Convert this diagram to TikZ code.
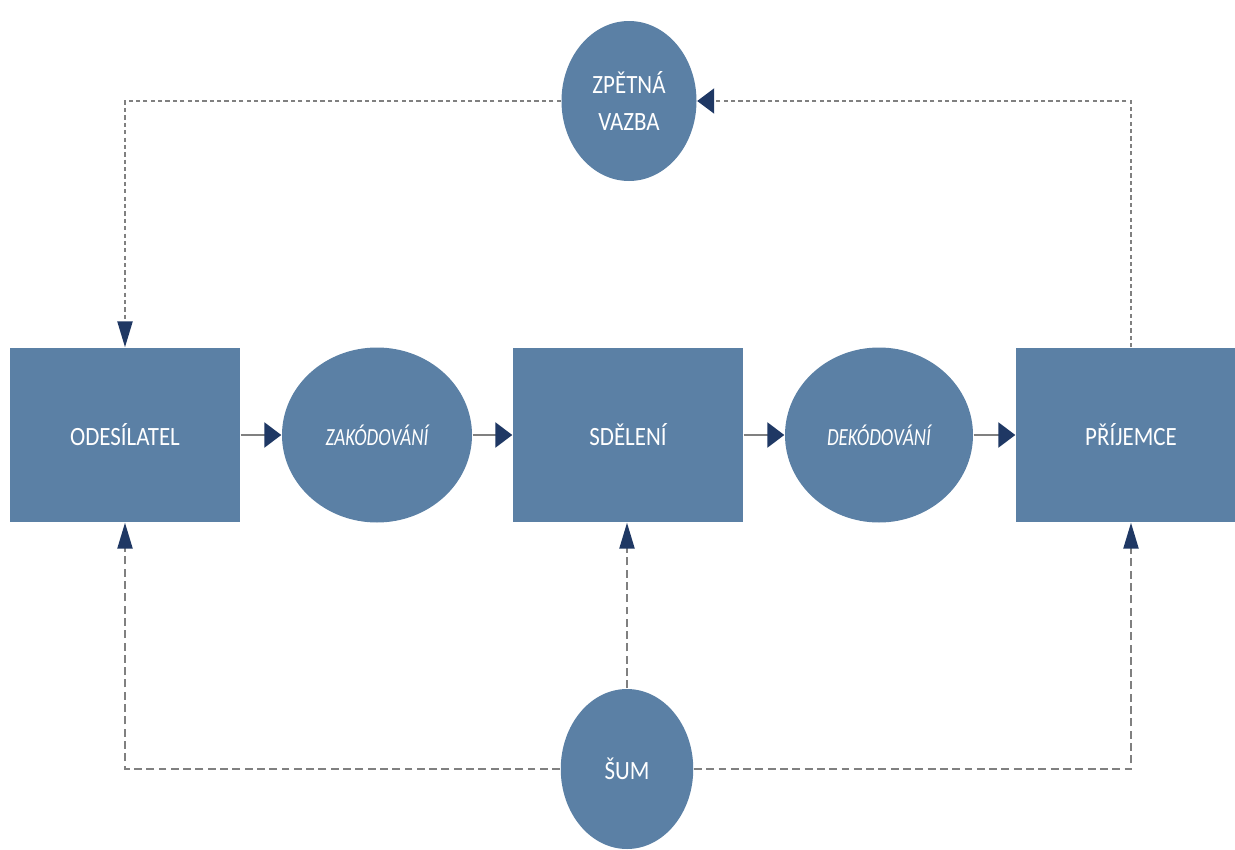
\documentclass[tikz,border=0pt]{standalone}
\usepackage{fontspec}
\usepackage{graphicx}
\setmainfont{Carlito}
\usetikzlibrary{arrows.meta,shapes.geometric}

\definecolor{boxblue}{RGB}{91,128,165}
\definecolor{tipnavy}{RGB}{31,56,100}
\definecolor{linegray}{RGB}{128,128,128}

% squeezed labels, as in the source drawing
\newcommand{\squeezetext}[2][0.87]{\scalebox{#1}[1]{#2}}

\begin{document}
\begin{tikzpicture}[thick,
                box node/.style={rectangle, fill=boxblue, text=white, minimum width=4.6cm, minimum height=3.48cm, font=\fontsize{15}{18}\selectfont},
                oval node/.style={ellipse, fill=boxblue, text=white, inner sep=0pt, align=center, font=\fontsize{15}{21}\selectfont},
                sidetip/.style={-{Triangle[length=0.34cm,width=0.5cm,color=tipnavy,fill=tipnavy]}},
                uptip/.style={-{Triangle[length=0.52cm,width=0.3cm,color=tipnavy,fill=tipnavy]}},
                flow/.style={sidetip, draw=linegray, line width=1.5pt},
                loopback/.style={draw=linegray, line width=1.3pt, dash pattern=on 2.4pt off 1.8pt},
                noise/.style={draw=linegray, line width=1.3pt, dash pattern=on 4.5pt off 2.5pt}]

            \useasboundingbox (0,0) rectangle (24.7,-17);

            \node[box node] (odesilatel) at (2.5,-8.7) {\squeezetext{ODESÍLATEL}};
            \node[oval node, minimum width=3.8cm, minimum height=3.5cm, font=\fontsize{14}{18}\selectfont\itshape] (zakodovani) at (7.54,-8.7) {\squeezetext[0.77]{ZAKÓDOVÁNÍ}};
            \node[box node] (sdeleni) at (12.56,-8.7) {\squeezetext{SDĚLENÍ}};
            \node[oval node, minimum width=3.76cm, minimum height=3.5cm, font=\fontsize{14}{18}\selectfont\itshape] (dekodovani) at (17.58,-8.7) {\squeezetext[0.77]{DEKÓDOVÁNÍ}};
            \node[box node] (prijemce) at (22.62,-8.7) {\squeezetext{PŘÍJEMCE}};

            \node[oval node, minimum width=2.7cm, minimum height=3.2cm] (zpetna) at (12.58,-2.02) {\squeezetext{ZPĚTNÁ}\\\squeezetext{VAZBA}};
            \node[oval node, minimum width=2.65cm, minimum height=3.2cm] (sum) at (12.54,-15.38) {\squeezetext{ŠUM}};

            % main chain
            \path[flow]
            (odesilatel) edge (zakodovani)
            (zakodovani) edge (sdeleni)
            (sdeleni) edge (dekodovani)
            (dekodovani) edge (prijemce);

            % feedback
            \draw[loopback, sidetip] (prijemce.north) |- (zpetna.east);
            \draw[loopback, uptip] (zpetna.west) -| (odesilatel.north);

            % noise
            \draw[noise, uptip] (sum.north) -- (sum.north |- sdeleni.south);
            \draw[noise, uptip] (sum.west) -| (odesilatel.south);
            \draw[noise, uptip] (sum.east) -| (prijemce.south);

        \end{tikzpicture}
\end{document}
